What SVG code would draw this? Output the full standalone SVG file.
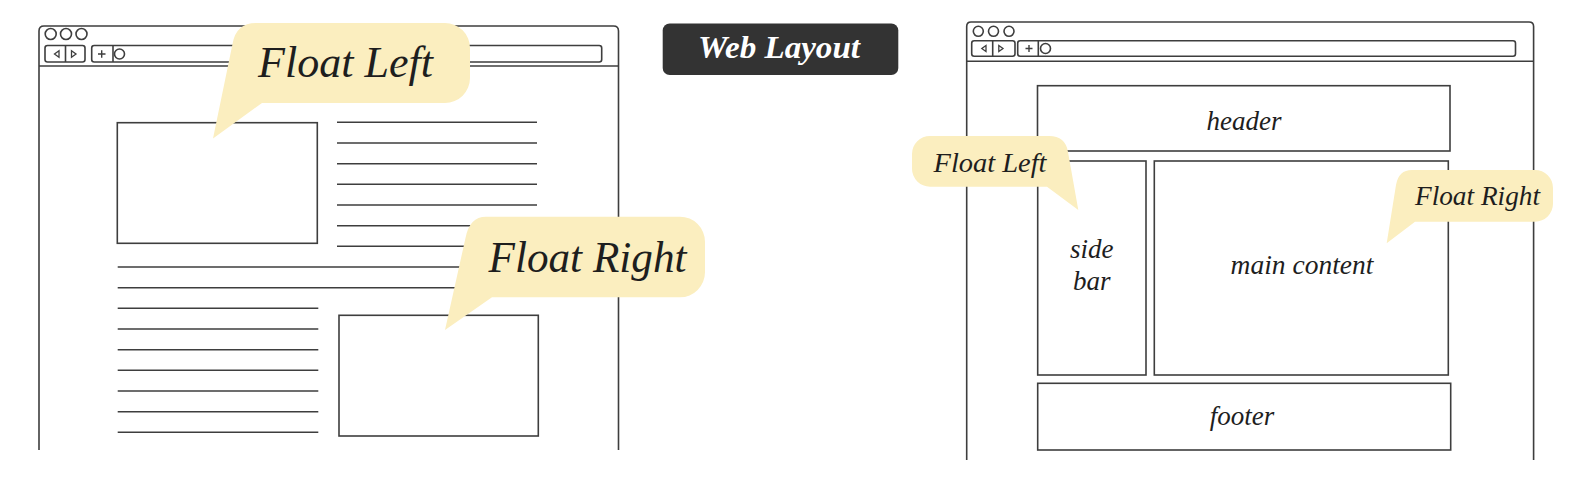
<svg xmlns="http://www.w3.org/2000/svg" width="1582" height="502" viewBox="0 0 1582 502">
<style>
.ln{fill:none;stroke:#3e3e3e;stroke-width:1.6}
.bx{fill:#fff;stroke:#3e3e3e;stroke-width:1.6}
.bub{fill:#fbeebf;stroke:none}
.lbl{font-family:"Liberation Serif","DejaVu Serif",serif;font-style:italic;fill:#1e1e1e;text-anchor:middle}
.tri{fill:none;stroke:#3e3e3e;stroke-width:1.3}
</style>
<rect width="1582" height="502" fill="#fff"/>

<g id="left-browser">
  <path class="ln" d="M39,450 V31 Q39,26 44,26 H613.5 Q618.5,26 618.5,31 V450"/>
  <circle class="ln" cx="50.7" cy="34" r="5.5"/>
  <circle class="ln" cx="66" cy="34" r="5.5"/>
  <circle class="ln" cx="81.5" cy="34" r="5.5"/>
  <rect class="ln" x="45" y="45.5" width="40" height="16.5" rx="2.5"/>
  <line class="ln" x1="65.5" y1="45.5" x2="65.5" y2="62"/>
  <path class="tri" d="M59,50.8 V57.2 L54.5,54 Z"/>
  <path class="tri" d="M71.5,50.8 V57.2 L76,54 Z"/>
  <rect class="ln" x="91.7" y="45.5" width="510" height="16.5" rx="2.5"/>
  <path class="ln" d="M98,54 H105.5 M101.7,50.2 V57.8" style="stroke-width:1.4"/>
  <line class="ln" x1="113" y1="45.5" x2="113" y2="62"/>
  <circle class="ln" cx="119.5" cy="54" r="5"/>
  <line class="ln" x1="39" y1="66" x2="618.5" y2="66"/>
  <rect class="bx" x="117.3" y="122.7" width="200" height="120.6"/>
  <rect class="bx" x="339" y="315.3" width="199.3" height="120.7"/>
  <path class="ln" d="M337,122.3 H537 M337,143 H537 M337,163.7 H537 M337,184.3 H537 M337,205 H537 M337,225.7 H537 M337,246.3 H537 M117.7,267 H537 M117.7,287.7 H537 M117.7,308.3 H318.3 M117.7,329 H318.3 M117.7,349.7 H318.3 M117.7,370.3 H318.3 M117.7,391 H318.3 M117.7,411.7 H318.3 M117.7,432.3 H318.3"/>
</g>

<g id="bubble-float-left">
  <path class="bub" d="M256,23 H445 A25,25 0 0 1 470,48 V78 A25,25 0 0 1 445,103 H262 L213,138.5 L232.5,44 Q236,23 256,23 Z"/>
  <text class="lbl" x="345.5" y="76.7" font-size="44" textLength="175" lengthAdjust="spacingAndGlyphs">Float Left</text>
</g>

<g id="bubble-float-right">
  <path class="bub" d="M486,216.7 H680 A25,25 0 0 1 705,241.7 V272.3 A25,25 0 0 1 680,297.3 H492 L445,330 L465.5,238 Q469.5,216.7 486,216.7 Z"/>
  <text class="lbl" x="587.5" y="271.7" font-size="44" textLength="198" lengthAdjust="spacingAndGlyphs">Float Right</text>
</g>

<g id="title-web-layout">
  <rect x="662.7" y="23.5" width="235.6" height="51.5" rx="7" fill="#333"/>
  <text x="779" y="58" font-family="'Liberation Serif','DejaVu Serif',serif" font-style="italic" font-weight="bold" font-size="31" fill="#fff" text-anchor="middle" textLength="162" lengthAdjust="spacingAndGlyphs">Web Layout</text>
</g>

<g id="right-browser">
  <path class="ln" d="M966.7,460 V26.5 Q966.7,22 971,22 H1529 Q1533.6,22 1533.6,26.5 V460"/>
  <circle class="ln" cx="978.3" cy="31.3" r="5"/>
  <circle class="ln" cx="993.5" cy="31.3" r="5"/>
  <circle class="ln" cx="1009" cy="31.3" r="5"/>
  <rect class="ln" x="971.7" y="40.7" width="43.3" height="15.6" rx="2.5"/>
  <line class="ln" x1="992.7" y1="40.7" x2="992.7" y2="56.3"/>
  <path class="tri" d="M986,45.5 V51.5 L981.8,48.5 Z"/>
  <path class="tri" d="M998.8,45.5 V51.5 L1003,48.5 Z"/>
  <rect class="ln" x="1017.7" y="40.7" width="497.8" height="15.6" rx="2.5"/>
  <path class="ln" d="M1025.5,48.5 H1032.5 M1029,45 V52" style="stroke-width:1.4"/>
  <line class="ln" x1="1038.3" y1="40.7" x2="1038.3" y2="56.3"/>
  <circle class="ln" cx="1045.5" cy="48.5" r="5"/>
  <line class="ln" x1="966.7" y1="61.3" x2="1533.6" y2="61.3"/>
</g>

<g id="header">
  <rect class="bx" x="1037.5" y="85.7" width="412.5" height="65.3"/>
  <text class="lbl" x="1244" y="130" font-size="27">header</text>
</g>

<g id="sidebar">
  <rect class="bx" x="1037.7" y="161" width="108.3" height="214"/>
  <text class="lbl" x="1091.8" y="258" font-size="27">side</text>
  <text class="lbl" x="1091.8" y="289.6" font-size="27">bar</text>
</g>

<g id="main-content">
  <rect class="bx" x="1154.3" y="161" width="294" height="214"/>
  <text class="lbl" x="1302" y="273.5" font-size="27.5">main content</text>
</g>

<g id="footer">
  <rect class="bx" x="1037.7" y="383.3" width="413" height="66.7"/>
  <text class="lbl" x="1242" y="425" font-size="27">footer</text>
</g>

<g id="bubble-float-left-small">
  <path class="bub" d="M930,136 H1049 Q1065.5,136 1068,152 L1078.3,210 L1047,186.7 H930 A18,18 0 0 1 912,168.7 V154 A18,18 0 0 1 930,136 Z"/>
  <text class="lbl" x="990" y="171.7" font-size="28" textLength="113" lengthAdjust="spacingAndGlyphs">Float Left</text>
</g>

<g id="bubble-float-right-small">
  <path class="bub" d="M1412,170 H1535 A18,18 0 0 1 1553,188 V203.7 A18,18 0 0 1 1535,221.7 H1415 L1386.7,243.3 L1396,185 Q1398.5,170 1412,170 Z"/>
  <text class="lbl" x="1477.5" y="205" font-size="27.5" textLength="125" lengthAdjust="spacingAndGlyphs">Float Right</text>
</g>
</svg>
